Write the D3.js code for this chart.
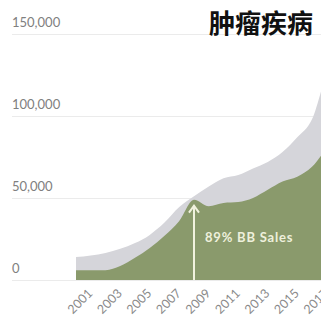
<!DOCTYPE html>
<html>
<head>
<meta charset="utf-8">
<script src="https://cdn.jsdelivr.net/npm/d3@7/dist/d3.min.js"></script>
<style>
  html, body { margin: 0; padding: 0; background: #fff; overflow: hidden; }
  svg { display: block; }
</style>
</head>
<body>
<script>
// Annual sales, thousands
const years = [2000, 2001, 2002, 2003, 2004, 2005, 2006, 2007, 2008, 2009, 2010, 2011, 2012, 2013, 2014, 2015, 2016, 2017, 2018];
const totalSales = [14, 15, 16.5, 19, 22.5, 27.5, 35, 44.5, 51, 57, 62, 64, 68, 72, 78, 87, 98, 126, 145];
const bbSales = [6, 6, 6, 8.5, 13.5, 19.5, 27, 36, 49, 45, 47, 47.5, 50, 55, 60, 63, 69, 80, 88];
const yTicks = [0, 50000, 100000, 150000];
const xTicks = [2001, 2003, 2005, 2007, 2009, 2011, 2013, 2015, 2017];
const title = "肿瘤疾病";
const noteYear = 2008;
const noteText = "89% BB Sales";

const W = 321, H = 323;
const svg = d3.select("body").append("svg").attr("width", W).attr("height", H);

const x = d3.scaleLinear().domain([2000, 2017]).range([76, 326.75]);
const y = d3.scaleLinear().domain([0, 150000]).range([280, 34]);

// gridlines with labels sitting above them
const grid = svg.append("g");
grid.selectAll("line").data(yTicks).join("line")
  .attr("x1", 12).attr("x2", W)
  .attr("y1", d => y(d) + 0.5).attr("y2", d => y(d) + 0.5)
  .attr("stroke", "#ebebeb").attr("stroke-width", 1);
grid.selectAll("text").data(yTicks).join("text")
  .attr("x", 12).attr("y", d => y(d) - 7)
  .attr("font-family", "Lato, 'Open Sans', sans-serif")
  .attr("font-size", 13)
  .attr("fill", "#808080")
  .text(d => d3.format(",")(d));

const rows = years.map((yr, i) => ({ yr, total: totalSales[i] * 1000, bb: bbSales[i] * 1000 }));

const areaTotal = d3.area().curve(d3.curveMonotoneX)
  .x(d => x(d.yr)).y0(y(0)).y1(d => y(d.total));
const areaBB = d3.area().curve(d3.curveMonotoneX)
  .x(d => x(d.yr)).y0(y(0)).y1(d => y(d.bb));

svg.append("path").datum(rows).attr("d", areaTotal).attr("fill", "#d5d5da");
svg.append("path").datum(rows).attr("d", areaBB).attr("fill", "#8a9a6c");

// x axis labels, rotated
const xAxis = d3.axisBottom(x).tickValues(xTicks).tickFormat(d3.format("d")).tickSize(0);
const gx = svg.append("g").attr("transform", `translate(0,${y(0)})`).call(xAxis);
gx.select(".domain").remove();
gx.selectAll("text")
  .attr("font-family", "Lato, 'Open Sans', sans-serif")
  .attr("font-size", 12.5)
  .attr("fill", "#8a8a8a")
  .attr("text-anchor", "end")
  .attr("dx", "0em").attr("dy", "0em")
  .attr("transform", "translate(0,12) rotate(-45)");

// annotation arrow at the 2008 peak
const noteIdx = years.indexOf(noteYear);
const ax = x(noteYear);
const tipY = y(bbSales[noteIdx] * 1000) + 6;
const ann = svg.append("g").attr("stroke", "#f1f2de").attr("stroke-width", 2).attr("fill", "none");
ann.append("line").attr("x1", ax).attr("x2", ax).attr("y1", y(0)).attr("y2", tipY);
ann.append("path").attr("d", `M${ax - 5},${tipY + 7}L${ax},${tipY}L${ax + 5},${tipY + 7}`);

svg.append("text")
  .attr("x", ax + 11).attr("y", 242)
  .attr("font-family", "Lato, 'Open Sans', sans-serif")
  .attr("font-weight", "bold")
  .attr("font-size", 13)
  .attr("letter-spacing", 0.8)
  .attr("fill", "#eef0dc")
  .text(noteText);

// title
svg.append("text")
  .attr("x", 313).attr("y", 33)
  .attr("text-anchor", "end")
  .attr("font-family", "'Noto Sans CJK SC', sans-serif")
  .attr("font-weight", "bold")
  .attr("font-size", 26)
  .attr("fill", "#111")
  .text(title);
</script>
</body>
</html>
